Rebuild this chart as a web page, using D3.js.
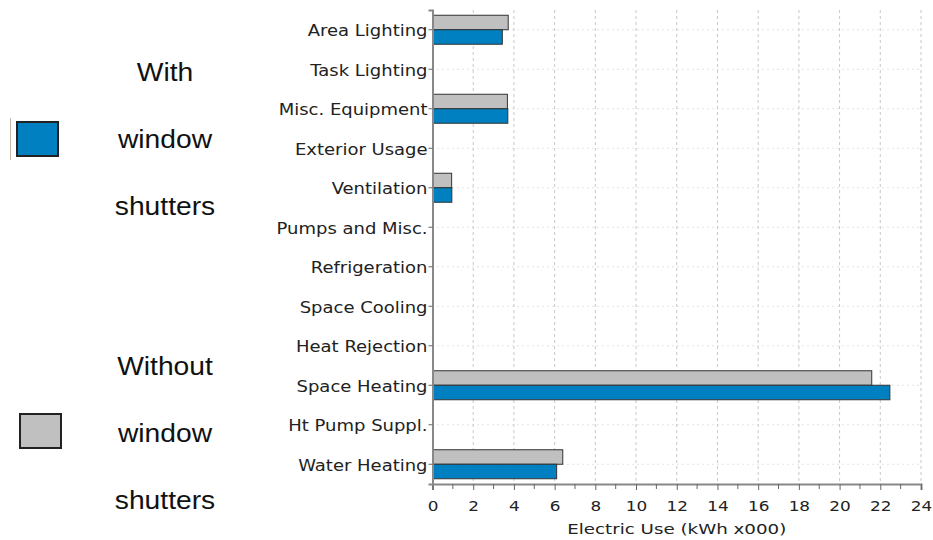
<!DOCTYPE html>
<html>
<head>
<meta charset="utf-8">
<script src="https://cdn.jsdelivr.net/npm/d3@7"></script>
<style>
  body { margin: 0; background: #fff; }
  .cat text { font-family: 'DejaVu Sans', Verdana, sans-serif; font-size: 15px; fill: #222; }
  .xax text { font-family: 'DejaVu Sans', Verdana, sans-serif; font-size: 13.5px; fill: #222; }
  .legend text { font-family: 'Liberation Sans', Arial, sans-serif; font-size: 25px; fill: #111; }
</style>
</head>
<body>
<div id="chart"></div>
<script>
var categories = ['Area Lighting', 'Task Lighting', 'Misc. Equipment', 'Exterior Usage',
  'Ventilation', 'Pumps and Misc.', 'Refrigeration', 'Space Cooling', 'Heat Rejection',
  'Space Heating', 'Ht Pump Suppl.', 'Water Heating'];
var withShutters = [3.43, 0, 3.7, 0, 0.95, 0, 0, 0, 0, 22.47, 0, 6.1];
var withoutShutters = [3.72, 0, 3.68, 0, 0.94, 0, 0, 0, 0, 21.58, 0, 6.4];
var xTicks = [0, 2, 4, 6, 8, 10, 12, 14, 16, 18, 20, 22, 24];
var legendItems = [
  { lines: ['With', 'window', 'shutters'], color: '#0080c0' },
  { lines: ['Without', 'window', 'shutters'], color: '#c0c0c0' }
];

var svgWidth = 933;
var svgHeight = 540;
var margin = { left: 432.5, right: 12, top: 10, bottom: 56 };
var width = svgWidth - margin.left - margin.right;
var height = svgHeight - margin.top - margin.bottom;

var svg = d3.select('#chart').append('svg')
  .attr('width', svgWidth)
  .attr('height', svgHeight);
var g = svg.append('g')
  .attr('transform', 'translate(' + margin.left + ', ' + margin.top + ')');

var xScale = d3.scaleLinear()
  .range([0, width])
  .domain([0, 24]);
var yScale = d3.scaleBand()
  .range([0, height])
  .domain(categories);

// grid
g.selectAll('.vgrid')
  .data(xTicks.slice(1))
  .enter().append('line')
  .attr('x1', function (d) { return xScale(d); })
  .attr('x2', function (d) { return xScale(d); })
  .attr('y1', 0)
  .attr('y2', height)
  .attr('stroke', '#c8c8c8')
  .attr('stroke-dasharray', '3,3');
g.selectAll('.hgrid')
  .data(categories)
  .enter().append('line')
  .attr('x1', 0)
  .attr('x2', width)
  .attr('y1', function (d) { return yScale(d) + yScale.bandwidth() / 2; })
  .attr('y2', function (d) { return yScale(d) + yScale.bandwidth() / 2; })
  .attr('stroke', '#c8c8c8')
  .attr('stroke-dasharray', '1,4');

// bars
var barH = 14.5;
function drawBars(values, color, offset) {
  var rows = categories.map(function (c, i) { return { cat: c, v: values[i] }; })
    .filter(function (d) { return d.v > 0; });
  g.selectAll(null)
    .data(rows)
    .enter().append('rect')
    .attr('x', 0)
    .attr('y', function (d) { return yScale(d.cat) + yScale.bandwidth() / 2 + offset; })
    .attr('width', function (d) { return xScale(d.v); })
    .attr('height', barH)
    .attr('fill', color)
    .attr('stroke', '#333')
    .attr('stroke-width', 1);
}
drawBars(withoutShutters, '#c0c0c0', -barH);
drawBars(withShutters, '#0080c0', 0);

// axes
var xAxis = d3.axisBottom(xScale)
  .tickValues(xTicks)
  .tickSize(6)
  .tickPadding(11)
  .tickFormat(d3.format('d'));
var xg = g.append('g')
  .attr('class', 'xax')
  .attr('transform', 'translate(0, ' + height + ')')
  .call(xAxis);
xg.select('.domain').attr('stroke', '#888').attr('stroke-width', 2);
xg.selectAll('.tick line').attr('stroke', '#666');
xg.selectAll('.tick text')
  .attr('transform', function () {
    return 'translate(0,' + d3.select(this).attr('y') + ') scale(1.25,1)';
  })
  .attr('y', 0);
xg.selectAll(null)
  .data(d3.range(1, 24, 2))
  .enter().append('line')
  .attr('x1', function (d) { return xScale(d); })
  .attr('x2', function (d) { return xScale(d); })
  .attr('y1', 0)
  .attr('y2', 5)
  .attr('stroke', '#666');

var yAxis = d3.axisLeft(yScale)
  .tickSize(4)
  .tickPadding(2);
var yg = g.append('g')
  .attr('class', 'cat')
  .call(yAxis);
yg.select('.domain').attr('stroke', '#888').attr('stroke-width', 2);
yg.selectAll('.tick line').attr('stroke', '#666');
yg.selectAll('.tick text')
  .attr('x', 0)
  .attr('dy', '0.42em')
  .attr('transform', 'translate(-5,0) scale(1.2,1)');

svg.append('text')
  .attr('transform', 'translate(' + (margin.left + width / 2) + ',534) scale(1.25,1)')
  .attr('text-anchor', 'middle')
  .style('font-family', "'DejaVu Sans', Verdana, sans-serif")
  .style('font-size', '14.6px')
  .style('fill', '#222')
  .text('Electric Use (kWh x000)');

// legend
var legend = svg.append('g').attr('class', 'legend');
legendItems.forEach(function (item, k) {
  var top = k * 294;
  legend.append('rect')
    .attr('x', 17 + k * 3)
    .attr('y', 122 + top - k * 2)
    .attr('width', 41)
    .attr('height', 34)
    .attr('fill', item.color)
    .attr('stroke', '#222')
    .attr('stroke-width', 2);
  item.lines.forEach(function (t, j) {
    legend.append('text')
      .attr('transform', 'translate(165,' + (81 + top + j * 67) + ') scale(1.13,1)')
      .attr('text-anchor', 'middle')
      .text(t);
  });
});
legend.append('line')
  .attr('x1', 10.5).attr('x2', 10.5)
  .attr('y1', 118).attr('y2', 160)
  .attr('stroke', '#c8b8a8');
</script>
</body>
</html>
